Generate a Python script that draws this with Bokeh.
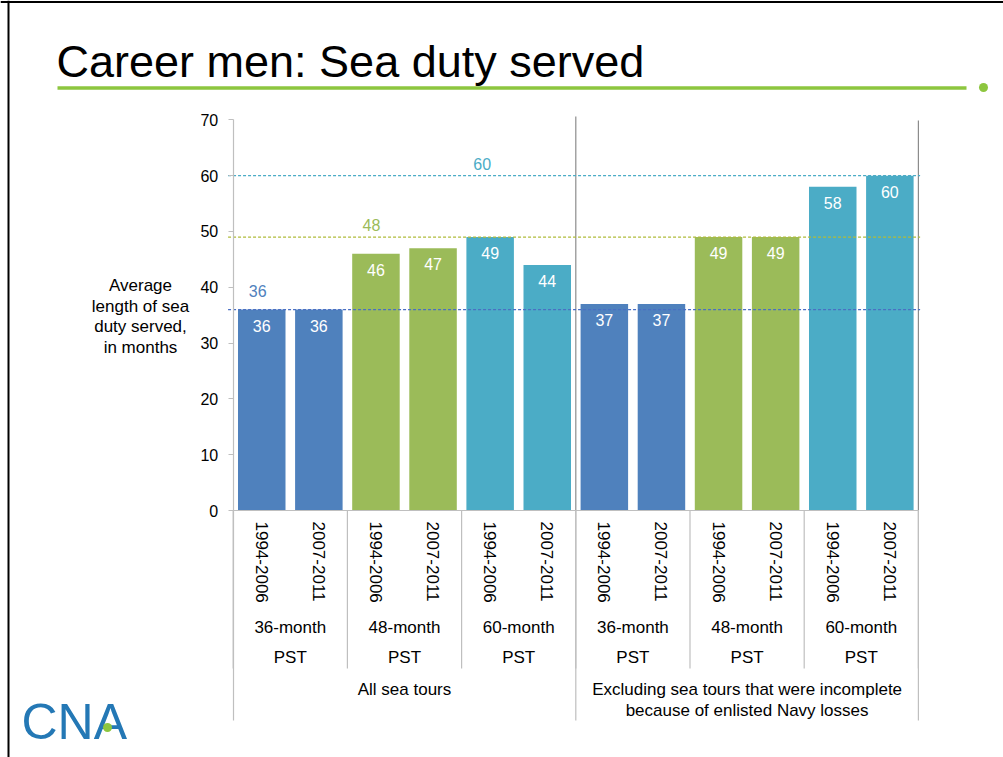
import math
from bokeh.plotting import figure
from bokeh.models import Range1d, LinearAxis, FixedTicker
from bokeh.core.properties import value
from bokeh.embed import file_html
from bokeh.resources import INLINE

# ---------------- data ----------------
title_text = "Career men: Sea duty served"
y_axis_title = "Average\nlength of sea\nduty served,\nin months"
groups = ["All sea tours",
          "Excluding sea tours that were incomplete\nbecause of enlisted Navy losses"]
tour_lengths = ["36-month", "48-month", "60-month"]
tour_suffix = "PST"
periods = ["1994-2006", "2007-2011"]
months_all_tours = [36, 36, 46, 47, 49, 44]
months_excluding = [37, 37, 49, 49, 58, 60]
guide_values = [36, 49, 60]
guide_labels = ["36", "48", "60"]
y_ticks = [0, 10, 20, 30, 40, 50, 60, 70]
logo_text = "CNA"

# ---------------- styles ----------------
FONT = "Liberation Sans"
tour_colors = ["#4F81BD", "#9BBB59", "#4BACC6"]
guide_line_colors = ["#4A6FC4", "#B0BC3A", "#4BACC6"]
guide_text_colors = ["#4F81BD", "#9BBB59", "#4BACC6"]
GREEN = "#8DC63F"

W, H = 1003, 757
X0_PX, UNIT_X = 232.7, 57.1      # px of x=0, px per category
Y0_PX, UNIT_Y = 510.0, 5.581     # px (from top) of y=0, px per month


def sx(px):  # picture px -> data x
    return (px - X0_PX) / UNIT_X


def sy(py):  # picture px -> data y
    return (Y0_PX - py) / UNIT_Y


p = figure(width=W, height=H, output_backend="svg", toolbar_location=None,
           x_axis_type=None, y_axis_type=None,
           x_range=Range1d(-X0_PX / UNIT_X, (W - X0_PX) / UNIT_X),
           y_range=Range1d(-(H - Y0_PX) / UNIT_Y, Y0_PX / UNIT_Y),
           min_border=0)
p.outline_line_color = None
p.background_fill_color = "white"
p.border_fill_color = "white"

# ---------------- bars ----------------
values = months_all_tours + months_excluding
n = len(values)
xs = [i + 0.5 for i in range(n)]
per_group = len(tour_lengths) * len(periods)
colors = [tour_colors[(i % per_group) // len(periods)] for i in range(n)]
period_labels = [periods[i % len(periods)] for i in range(n)]

# separators in plot area between the two big groups
p.segment(x0=[per_group, n], y0=[0, 0], x1=[per_group, n], y1=[sy(116), sy(120)],
          line_color="#8C8C8C", line_width=1.2)

p.vbar(x=xs, top=values, bottom=0, width=0.832, fill_color=colors, line_color=None)

# dashed guides
p.segment(x0=[-0.09] * 3, y0=guide_values, x1=[n + 0.03] * 3, y1=guide_values,
          line_color=guide_line_colors, line_dash="3 2", line_width=1.3)
guide_x = [0.43, 2.42, 4.36]
guide_dy = [-19, -12, -12]
for gx, gv, gl, gc, go in zip(guide_x, guide_values, guide_labels, guide_text_colors, guide_dy):
    p.text(x=[gx], y=[gv], text=[gl], y_offset=go, text_align="center", text_baseline="middle",
           text_font=value(FONT), text_font_size="16px", text_color=gc)

# bar value labels
p.text(x=xs, y=values, text=[str(v) for v in values], y_offset=16,
       text_align="center", text_baseline="middle",
       text_font=value(FONT), text_font_size="16px", text_color="white")

# ---------------- category axis (periods) ----------------
xa = LinearAxis(fixed_location=0, bounds=(0, n),
                ticker=FixedTicker(ticks=xs, minor_ticks=[]),
                major_label_overrides={x: lab for x, lab in zip(xs, period_labels)})
xa.major_label_orientation = "vertical"
xa.major_tick_out = 0
xa.major_tick_in = 0
xa.minor_tick_out = 0
xa.minor_tick_in = 0
xa.axis_line_color = "#BFBFBF"
xa.axis_line_width = 1.2
xa.major_label_standoff = 11
xa.major_label_text_font = FONT
xa.major_label_text_font_size = "17px"
xa.major_label_text_color = "black"
p.add_layout(xa, "below")

# ---------------- y axis ----------------
ya = LinearAxis(fixed_location=0, bounds=(sy(720), max(y_ticks)),
                ticker=FixedTicker(ticks=y_ticks, minor_ticks=[]))
ya.major_tick_out = 5
ya.major_tick_in = 0
ya.minor_tick_out = 0
ya.minor_tick_in = 0
ya.axis_line_color = "#BFBFBF"
ya.axis_line_width = 1.2
ya.major_tick_line_color = "#BFBFBF"
ya.major_label_standoff = 10
ya.major_label_text_font = FONT
ya.major_label_text_font_size = "16px"
ya.major_label_text_color = "black"
p.add_layout(ya, "left")

# separators under the axis
sub_bounds = [i * len(periods) for i in range(n // len(periods) + 1)]
p.segment(x0=sub_bounds, y0=[0] * len(sub_bounds), x1=sub_bounds, y1=[sy(668)] * len(sub_bounds),
          line_color="#BFBFBF", line_width=1.2)
grp_bounds = [per_group, n]
p.segment(x0=grp_bounds, y0=[0, 0], x1=grp_bounds, y1=[sy(720)] * 2,
          line_color="#BFBFBF", line_width=1.2)

# tour length / PST labels
sub_centers = [g * per_group + t * len(periods) + len(periods) / 2
               for g in range(len(groups)) for t in range(len(tour_lengths))]
sub_labels = [tour_lengths[t] for g in range(len(groups)) for t in range(len(tour_lengths))]
p.text(x=sub_centers, y=[sy(627)] * len(sub_centers), text=sub_labels,
       text_align="center", text_baseline="middle",
       text_font=value(FONT), text_font_size="17px", text_color="black")
p.text(x=sub_centers, y=[sy(657)] * len(sub_centers), text=[tour_suffix] * len(sub_centers),
       text_align="center", text_baseline="middle",
       text_font=value(FONT), text_font_size="17px", text_color="black")

grp_centers = [g * per_group + per_group / 2 for g in range(len(groups))]
p.text(x=grp_centers, y=[sy(679)] * len(groups), text=groups,
       text_align="center", text_baseline="top", text_line_height=1.12,
       text_font=value(FONT), text_font_size="17px", text_color="black")

# y axis title
p.text(x=[sx(140)], y=[sy(316)], text=[y_axis_title],
       text_align="center", text_baseline="middle", text_line_height=1.10,
       text_font=value(FONT), text_font_size="17px", text_color="black")

# ---------------- slide decorations ----------------
p.text(x=[sx(56)], y=[sy(61)], text=[title_text], text_align="left",
       text_baseline="alphabetic", text_font=value(FONT), text_font_size="45px",
       text_color="black")
p.segment(x0=[sx(57)], y0=[sy(87.5)], x1=[sx(966)], y1=[sy(87.5)],
          line_color=GREEN, line_width=3.5)
p.scatter(x=[sx(983)], y=[sy(87)], size=9, fill_color=GREEN, line_color=None)

p.text(x=[sx(21)], y=[sy(721)], text=[logo_text], text_align="left",
       text_baseline="alphabetic", text_font=value(FONT), text_font_size="50px",
       text_color="#2478B5")
p.scatter(x=[sx(107)], y=[sy(727)], size=9, fill_color=GREEN, line_color=None)

# slide border (left and top)
p.segment(x0=[sx(8), sx(0)], y0=[sy(0), sy(1.5)], x1=[sx(8), sx(W)], y1=[sy(H), sy(1.5)],
          line_color="black", line_width=2)

open("out.html", "w").write(file_html(p, INLINE))
